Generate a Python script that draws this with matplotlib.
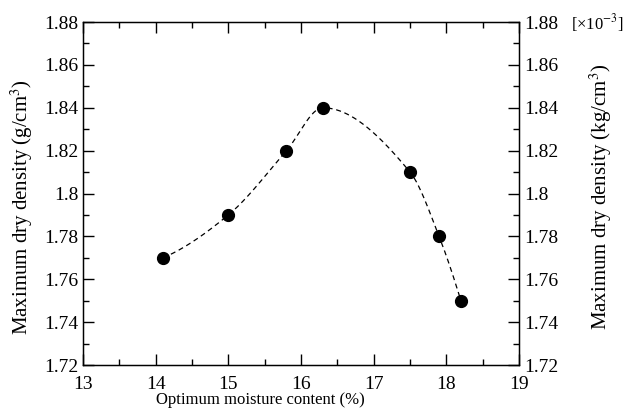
import numpy as np
import matplotlib
matplotlib.use("Agg")
import matplotlib.pyplot as plt
from matplotlib.ticker import MultipleLocator

moisture = [14.1, 15.0, 15.8, 16.3, 17.5, 17.9, 18.2]
density = [1.77, 1.79, 1.82, 1.84, 1.81, 1.78, 1.75]

x_ticks = [13, 14, 15, 16, 17, 18, 19]
y_ticks = [1.72, 1.74, 1.76, 1.78, 1.80, 1.82, 1.84, 1.86, 1.88]
y_tick_labels = ["1.72", "1.74", "1.76", "1.78", "1.8", "1.82", "1.84", "1.86", "1.88"]


def pchip(x, y, xs):
    x = np.asarray(x, float); y = np.asarray(y, float)
    h = np.diff(x); d = np.diff(y) / h
    n = len(x); m = np.zeros(n)
    for k in range(1, n - 1):
        if d[k - 1] * d[k] > 0:
            w1 = 2 * h[k] + h[k - 1]; w2 = h[k] + 2 * h[k - 1]
            m[k] = (w1 + w2) / (w1 / d[k - 1] + w2 / d[k])
    m[0] = ((2 * h[0] + h[1]) * d[0] - h[0] * d[1]) / (h[0] + h[1])
    if np.sign(m[0]) != np.sign(d[0]):
        m[0] = 0
    m[-1] = ((2 * h[-1] + h[-2]) * d[-1] - h[-1] * d[-2]) / (h[-1] + h[-2])
    if np.sign(m[-1]) != np.sign(d[-1]):
        m[-1] = 0
    out = np.empty_like(xs)
    for i, xv in enumerate(xs):
        k = min(max(np.searchsorted(x, xv) - 1, 0), n - 2)
        t = (xv - x[k]) / h[k]
        h00 = 2 * t**3 - 3 * t**2 + 1; h10 = t**3 - 2 * t**2 + t
        h01 = -2 * t**3 + 3 * t**2; h11 = t**3 - t**2
        out[i] = h00 * y[k] + h10 * h[k] * m[k] + h01 * y[k + 1] + h11 * h[k] * m[k + 1]
    return out


plt.rcParams["font.family"] = ["Liberation Serif", "DejaVu Serif"]
plt.rcParams["mathtext.fontset"] = "stix"

fig = plt.figure(figsize=(6.27, 4.17), dpi=100)
ax = fig.add_axes([0.1324, 0.1247, 0.8278 - 0.1324, 0.9472 - 0.1247])

xs = np.linspace(moisture[0], moisture[-1], 400)
ax.plot(xs, pchip(moisture, density, xs), color="black", lw=0.9, ls=(0, (4, 3)))
ax.plot(moisture, density, "o", color="black", ms=8.5, zorder=3)

ax.set_xlim(13, 19)
ax.set_ylim(1.72, 1.88)
ax.set_xticks(x_ticks)
ax.set_yticks(y_ticks)
ax.set_yticklabels(y_tick_labels)
ax.xaxis.set_minor_locator(MultipleLocator(0.5))
ax.yaxis.set_minor_locator(MultipleLocator(0.01))
ax.tick_params(which="both", direction="in", top=True, right=True, labelsize=14, width=1)
ax.tick_params(axis="x", which="both", pad=8)
ax.tick_params(which="major", length=8)
ax.tick_params(which="minor", length=4)
for s in ax.spines.values():
    s.set_linewidth(1)

ax.set_xlabel("Optimum moisture content (%)", fontsize=12)
ax.xaxis.set_label_coords(0.406, -0.08)
ax.set_ylabel("Maximum dry density (g/cm$^3$)", fontsize=15)
ax.yaxis.set_label_coords(-0.109, 0.46)

ax2 = ax.twinx()
ax2.set_ylim(1.72, 1.88)
ax2.set_yticks(y_ticks)
ax2.set_yticklabels(y_tick_labels)
ax2.yaxis.set_minor_locator(MultipleLocator(0.01))
ax2.tick_params(which="both", direction="in", labelsize=14, width=1)
ax2.tick_params(which="major", length=8)
ax2.tick_params(which="minor", length=4)
ax2.set_ylabel("Maximum dry density (kg/cm$^3$)", fontsize=15)
ax2.yaxis.set_label_coords(1.158, 0.49)
fig.text(0.994, 0.945, "[×10$^{-3}$]", fontsize=12, ha="right", va="center")

fig.savefig("out.png", dpi=100)
